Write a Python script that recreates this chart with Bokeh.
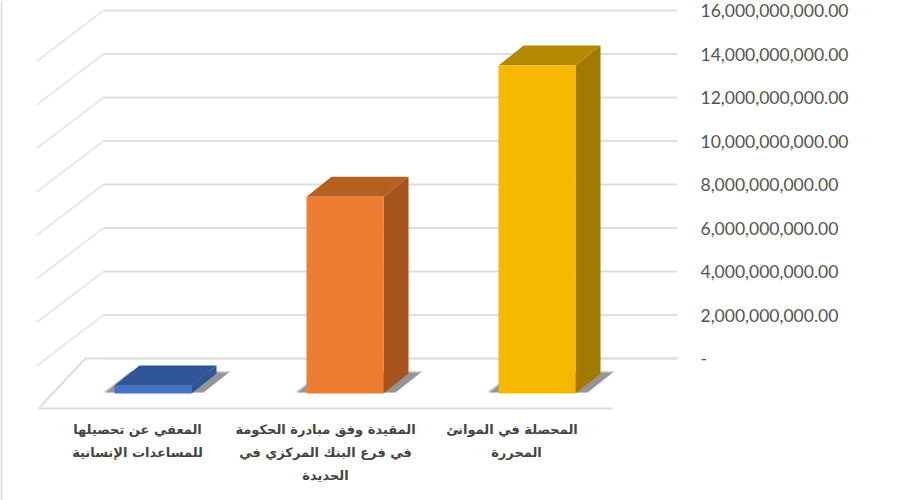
from bokeh.plotting import figure
from bokeh.models import FixedTicker
from bokeh.core.properties import value
from bokeh.embed import file_html
from bokeh.resources import INLINE

# ---- data
categories = [
    "المعفي عن تحصيلها\nللمساعدات الإنسانية",
    "المقيدة وفق مبادرة الحكومة\nفي فرع البنك المركزي في\nالحديدة",
    "المحصلة  في  الموانئ\nالمحررة",
]
amounts = [0.33e9, 8.1e9, 13.5e9]
ticks = [0, 2e9, 4e9, 6e9, 8e9, 10e9, 12e9, 14e9, 16e9]
tick_labels = ["-", "2,000,000,000.00", "4,000,000,000.00", "6,000,000,000.00",
               "8,000,000,000.00", "10,000,000,000.00", "12,000,000,000.00",
               "14,000,000,000.00", "16,000,000,000.00"]
front_colors = ["#4472c4", "#ed7d31", "#f6b900"]
top_colors = ["#2f5597", "#b5601f", "#b68a00"]
side_colors = ["#2f5597", "#a5541c", "#a37a00"]

# ---- layout helpers (x axis is in page pixels, y axis in value units)
UNIT = 2e9 / 43.5           # value units per page pixel on the back wall
ZERO_PX = 358


def u(px):
    return px * UNIT


bar_left = [114, 306, 498]
BAR_W = 77
DEPTH_X, DEPTH_Y = 25, 20
BASE = -u(393 - ZERO_PX)
BAR_SCALE = 1.117

p = figure(frame_width=680, frame_height=500, output_backend="svg", toolbar_location=None,
           x_range=(0, 680), y_range=(-u(500 - ZERO_PX), u(ZERO_PX)),
           x_axis_location=None, y_axis_location="right",
           min_border=0, min_border_left=0, min_border_right=0,
           min_border_top=0, min_border_bottom=0, outline_line_color=None)
p.grid.visible = False

ax = p.yaxis[0]
ax.ticker = FixedTicker(ticks=ticks)
ax.major_label_overrides = {t: s for t, s in zip(ticks, tick_labels)}
ax.axis_line_color = None
ax.major_tick_line_color = None
ax.minor_tick_line_color = None
ax.major_label_standoff = 14
ax.major_label_text_font = "Lato"
ax.major_label_text_font_size = "17.5px"
ax.major_label_text_color = "#555555"

GRID = "#dedede"
# page edge
p.line([1, 1], [-u(142), u(358)], line_color="#dddddd", line_width=2)
# back wall and side wall
for t in ticks:
    p.line([103, 677], [t, t], line_color=GRID, line_width=2)
    if t > 0:
        p.line([36, 103], [t - u(51), t], line_color="#e8e8e8", line_width=2)
# floor
p.line([38, 85], [-u(50), 0], line_color=GRID, line_width=2)
p.line([85, 677], [0, 0], line_color=GRID, line_width=2)
p.line([38, 612], [-u(50), -u(50)], line_color=GRID, line_width=2)

for left, amt, fc, tc, sc in zip(bar_left, amounts, front_colors, top_colors, side_colors):
    right = left + BAR_W
    top = BASE + amt * BAR_SCALE
    d = u(DEPTH_Y)
    # ground shadow
    for grow, alpha in ((3, 0.25), (0, 0.5)):
        p.patch([left - 9 - grow, left + 16, right + 37 + grow, right + 12],
                [BASE + u(1), BASE + d + u(1 + grow / 2), BASE + d + u(1 + grow / 2), BASE + u(1)],
                fill_color="#555555", fill_alpha=alpha, line_color=None)
    # top, side, front
    p.patch([left, left + DEPTH_X, right + DEPTH_X, right], [top, top + d, top + d, top],
            fill_color=tc, line_color=None)
    p.patch([right, right + DEPTH_X, right + DEPTH_X, right], [BASE, BASE + d, top + d, top],
            fill_color=sc, line_color=None)
    p.patch([left, right, right, left], [BASE, BASE, top, top], fill_color=fc, line_color=None)

label_x = [137, 325, 516]
p.text(x=label_x, y=[-u(421 - ZERO_PX)] * 3, text=categories,
       text_font=value("DejaVu Sans"), text_font_size="13px", text_font_style="bold",
       text_color="#444444", text_align="center", text_baseline="top",
       text_line_height=1.55)

open("out.html", "w").write(file_html(p, INLINE))
